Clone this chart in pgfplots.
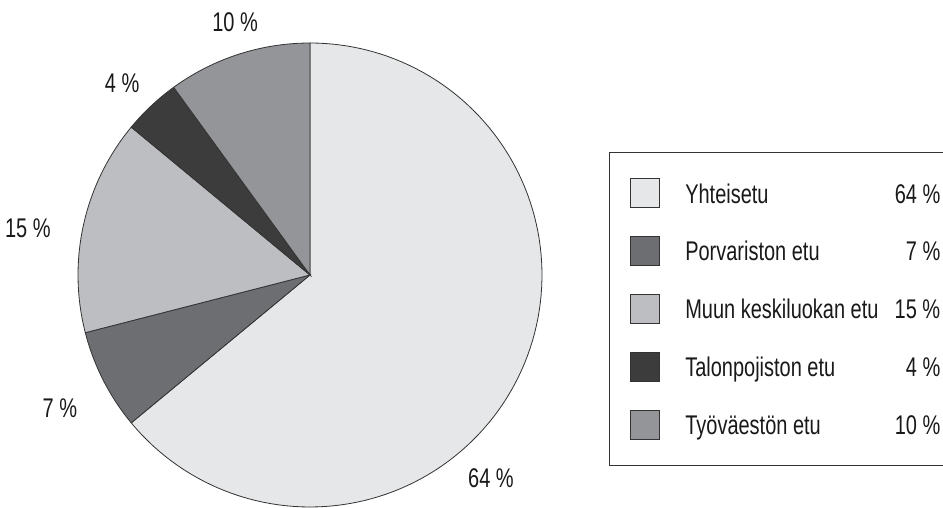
\documentclass[border=0pt]{standalone}
\usepackage{fontspec}
\setmainfont{Liberation Sans}[FakeStretch=0.74]
\usepackage{pgfplots}
\pgfplotsset{compat=1.18}
\definecolor{cA}{HTML}{E6E7E9}
\definecolor{cB}{HTML}{6D6E72}
\definecolor{cC}{HTML}{BDBEC2}
\definecolor{cD}{HTML}{3C3C3C}
\definecolor{cE}{HTML}{939598}
\definecolor{edge}{HTML}{333333}
% slice shares (percent), clockwise from 12 o'clock
\pgfmathsetmacro{\aA}{90}
\pgfmathsetmacro{\aB}{\aA-64*3.6}
\pgfmathsetmacro{\aC}{\aB-7*3.6}
\pgfmathsetmacro{\aD}{\aC-15*3.6}
\pgfmathsetmacro{\aE}{\aD-4*3.6}
\pgfmathsetmacro{\aF}{\aE-10*3.6}
\begin{document}
\fontsize{27}{30}\selectfont
\begin{tikzpicture}
\useasboundingbox (0,0) rectangle (943pt,508pt);
\begin{axis}[
  at={(310pt,233pt)}, anchor=origin,
  width=464pt, height=464pt, scale only axis,
  xmin=-1, xmax=1, ymin=-1, ymax=1,
  hide axis, clip=false,
  every axis plot/.append style={draw=edge, line width=0.8pt},
  legend image code/.code={\draw[#1] (0pt,-14.5pt) rectangle (29pt,14.5pt);},
  legend cell align=left,
  legend style={
    at={(1.1444,0.7651)}, anchor=north west,
    draw=edge, line width=1pt,
    inner xsep=20pt, inner ysep=26pt,
    row sep=28pt, column sep=0pt,
    font=\fontsize{27}{30}\selectfont,
    text=black!90,
    nodes={inner sep=0pt, text height=20pt, text depth=0.6pt},
    /tikz/every odd column/.append style={column sep=26pt},
  },
]
\addplot[fill=cA, domain=\aB:\aA, samples=120, variable=\t] ({cos(\t)},{sin(\t)}) -- (axis cs:0,0) -- cycle;
\addlegendentry{\makebox[255pt][l]{Yhteisetu\hfill 64 \%}}
\addplot[fill=cB, domain=\aC:\aB, samples=20, variable=\t] ({cos(\t)},{sin(\t)}) -- (axis cs:0,0) -- cycle;
\addlegendentry{\makebox[255pt][l]{Porvariston etu\hfill 7 \%}}
\addplot[fill=cC, domain=\aD:\aC, samples=40, variable=\t] ({cos(\t)},{sin(\t)}) -- (axis cs:0,0) -- cycle;
\addlegendentry{\makebox[255pt][l]{Muun keskiluokan etu\hfill 15 \%}}
\addplot[fill=cD, domain=\aE:\aD, samples=15, variable=\t] ({cos(\t)},{sin(\t)}) -- (axis cs:0,0) -- cycle;
\addlegendentry{\makebox[255pt][l]{Talonpojiston etu\hfill 4 \%}}
\addplot[fill=cE, domain=\aF:\aE, samples=30, variable=\t] ({cos(\t)},{sin(\t)}) -- (axis cs:0,0) -- cycle;
\addlegendentry{\makebox[255pt][l]{Työväestön etu\hfill 10 \%}}
\node[text=black!90] at (axis cs:0.780,-0.875) {64 \%};
\node[text=black!90] at (axis cs:-1.078,-0.573) {7 \%};
\node[text=black!90] at (axis cs:-1.216,0.203) {15 \%};
\node[text=black!90] at (axis cs:-0.810,0.828) {4 \%};
\node[text=black!90] at (axis cs:-0.323,1.091) {10 \%};
\end{axis}
\end{tikzpicture}
\end{document}
